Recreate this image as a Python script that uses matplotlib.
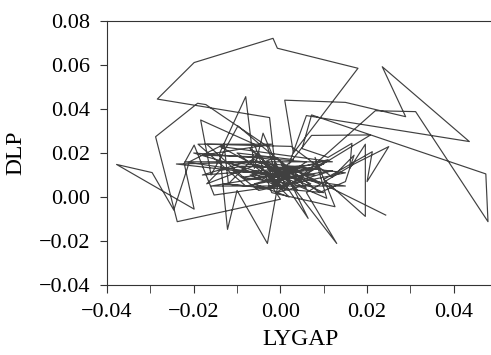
import matplotlib.pyplot as plt

plt.rcParams['font.family'] = ['Liberation Serif', 'DejaVu Serif']

# LYGAP (x) and DLP (y) in path order
lygap = [0.0243, 0.0033, 0.0090, -0.0040, 0.0020, -0.0070, 0.0050, -0.0020, 0.0000, -0.0238,
         -0.0288, -0.0191, -0.0172, -0.0030, -0.0010, -0.0025, -0.0284, -0.0199, -0.0017, -0.0007,
         0.0179, 0.0030, 0.0010, 0.0150, 0.0289, 0.0235, 0.0436, 0.0060, 0.0020, 0.0072,
         0.0208, 0.0040, 0.0219, 0.0312, 0.0479, 0.0474, 0.0072, 0.0050, 0.0110, 0.0165,
         0.0160, 0.0196, 0.0196, 0.0100, 0.0212, 0.0200, 0.0250, 0.0170, 0.0060, 0.0130,
         0.0000, -0.0030, -0.0100, -0.0122, -0.0140, -0.0080, -0.0060, -0.0040, 0.0010, 0.0064,
         0.0000, -0.0098, -0.0160, -0.0184, -0.0060, -0.0020, 0.0126, 0.0080, 0.0107, 0.0030,
         -0.0153, -0.0199, -0.0222, -0.0199, -0.0378, -0.0296, -0.0246, -0.0210, -0.0130, -0.0120,
         -0.0050, -0.0010, 0.0050, -0.0080, -0.0190, -0.0020, -0.0180, -0.0010, 0.0060, -0.0030,
         0.0100, 0.0010, -0.0060, 0.0020, -0.0030, 0.0070, -0.0090, -0.0140, -0.0170, -0.0010,
         0.0090, 0.0150, 0.0170, 0.0120, 0.0025, -0.0170, -0.0080, 0.0040, -0.0120, 0.0010,
         -0.0050, 0.0080, -0.0020, 0.0030, -0.0100, 0.0000, 0.0120, -0.0040, 0.0020, -0.0180,
         -0.0060, 0.0050, -0.0010, 0.0100, -0.0130, -0.0030, 0.0060, -0.0200, 0.0010, -0.0070,
         0.0040, -0.0015, 0.0150, -0.0050, -0.0110, 0.0030, -0.0240, -0.0030, 0.0070, -0.0010,
         0.0110, 0.0000, -0.0090, 0.0020, -0.0140, 0.0120, -0.0220, 0.0150, -0.0160, 0.0090]
dlp = [-0.0082, 0.0123, 0.0060, 0.0160, 0.0030, 0.0100, 0.0140, 0.0050, -0.0010, -0.0112,
       0.0274, 0.0426, 0.0420, 0.0230, 0.0100, 0.0361, 0.0445, 0.0611, 0.0721, 0.0676,
       0.0585, 0.0200, 0.0440, 0.0430, 0.0365, 0.0592, 0.0252, 0.0370, 0.0150, 0.0280,
       0.0282, 0.0080, 0.0392, 0.0388, -0.0112, 0.0105, 0.0373, 0.0220, 0.0180, 0.0244,
       0.0130, 0.0240, -0.0088, 0.0080, 0.0206, 0.0070, 0.0229, 0.0150, 0.0020, -0.0211,
       0.0120, -0.0211, 0.0030, -0.0147, 0.0200, 0.0456, 0.0130, 0.0290, 0.0060, -0.0097,
       0.0160, 0.0323, 0.0100, 0.0350, 0.0240, 0.0020, -0.0044, 0.0180, -0.0006, 0.0060,
       0.0009, 0.0236, 0.0153, -0.0055, 0.0148, 0.0111, -0.0059, 0.0160, 0.0240, 0.0060,
       0.0200, 0.0070, 0.0100, 0.0050, 0.0240, 0.0240, 0.0190, 0.0180, 0.0040, 0.0130,
       0.0150, 0.0100, 0.0060, 0.0000, 0.0100, 0.0130, 0.0140, 0.0120, 0.0060, 0.0180,
       0.0020, 0.0070, 0.0190, 0.0090, 0.0230, 0.0240, 0.0080, 0.0120, 0.0160, 0.0040,
       0.0140, 0.0100, 0.0090, 0.0170, 0.0200, 0.0050, 0.0120, 0.0070, 0.0130, 0.0100,
       0.0170, 0.0070, 0.0120, 0.0020, 0.0060, 0.0040, 0.0160, 0.0200, 0.0080, 0.0220,
       0.0030, 0.0150, 0.0110, 0.0030, 0.0120, 0.0090, 0.0150, 0.0160, 0.0060, 0.0020,
       0.0170, 0.0110, 0.0090, 0.0060, 0.0230, 0.0160, 0.0160, 0.0050, 0.0050, 0.0130]

fig = plt.figure(figsize=(4.91, 3.55), dpi=100)
ax = fig.add_axes([0.218, 0.197, 0.79, 0.744])

ax.plot(lygap, dlp, color='#404040', linewidth=0.85)

ax.set_xlim(-0.04, 0.0495)
ax.set_ylim(-0.04, 0.08)
ax.set_xticks([-0.04, -0.02, 0.00, 0.02, 0.04])
ax.set_xticks([-0.03, -0.01, 0.01, 0.03], minor=True)
ax.set_yticks([-0.04, -0.02, 0.00, 0.02, 0.04, 0.06, 0.08])
ax.set_xticklabels(['\u22120.04', '\u22120.02', '0.00', '0.02', '0.04'])
ax.set_yticklabels(['\u22120.04', '\u22120.02', '0.00', '0.02', '0.04', '0.06', '0.08'])
ax.tick_params(axis='both', which='both', direction='out', labelsize=16, color='#333333')
ax.tick_params(axis='x', which='both', length=6, pad=7)
ax.tick_params(axis='y', length=5, pad=7)
ax.spines['right'].set_visible(False)
for s in ['left', 'bottom', 'top']:
    ax.spines[s].set_color('#333333')

ax.set_xlabel('LYGAP', fontsize=17, labelpad=5)
ax.set_ylabel('DLP', fontsize=17, labelpad=9)

fig.savefig('out.png', dpi=100)
